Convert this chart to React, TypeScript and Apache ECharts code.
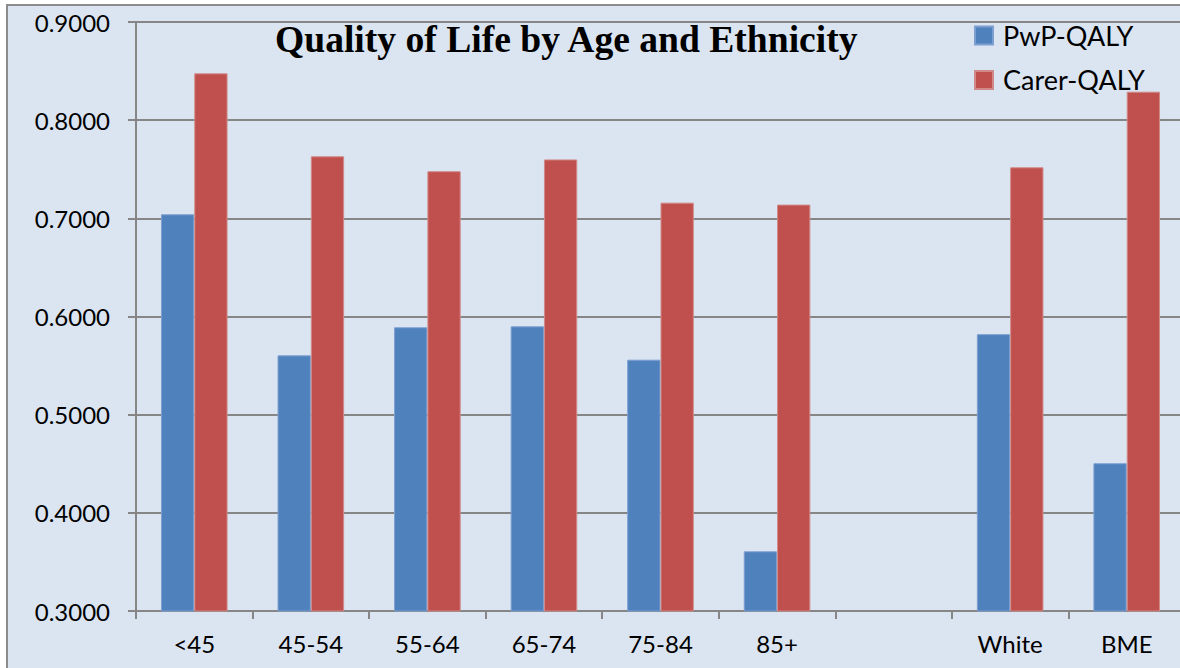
import React, { useEffect, useRef } from "react";
import * as echarts from "echarts";

const categories = ["<45", "45-54", "55-64", "65-74", "75-84", "85+", "", "White", "BME"];
const pwpQaly = [0.7041, 0.5604, 0.589, 0.590, 0.556, 0.3608, null, 0.582, 0.4505];
const carerQaly = [0.8477, 0.7632, 0.748, 0.760, 0.716, 0.714, null, 0.752, 0.829];
const seriesNames = ["PwP-QALY", "Carer-QALY"];
const titleText = "Quality of Life by Age and Ethnicity";

const FONT = "Lato";

export default function App() {
  const ref = useRef<HTMLDivElement>(null);
  useEffect(() => {
    if (!ref.current) return;
    const chart = echarts.init(ref.current, null, { renderer: "svg" });
    chart.setOption({
      animation: false,
      backgroundColor: "#ffffff",
      graphic: [
        {
          type: "rect",
          z: -10,
          silent: true,
          shape: { x: 7, y: 5, width: 1300, height: 700 },
          style: { fill: "#dbe5f1", stroke: "#8c8c8c", lineWidth: 2 },
        },
        {
          type: "text",
          z: 10,
          silent: true,
          x: 275,
          y: 39,
          style: {
            text: titleText,
            fontFamily: "Liberation Serif",
            fontWeight: "bold",
            fontSize: 37.6,
            fill: "#000",
            verticalAlign: "middle",
            align: "left",
          },
        },
      ],
      legend: {
        orient: "vertical",
        left: 974,
        top: 22,
        padding: 0,
        itemWidth: 18,
        itemHeight: 18,
        itemGap: 17.4,
        icon: "rect",
        data: seriesNames,
        textStyle: {
          fontFamily: FONT,
          fontSize: 27,
          lineHeight: 18,
          color: "#000",
          padding: [0, 0, 0, 5],
        },
      },
      grid: { left: 136, top: 22, width: 1049, height: 589 },
      xAxis: {
        type: "category",
        data: categories,
        axisLine: { lineStyle: { color: "#868686", width: 2 } },
        axisTick: { show: true, length: 8, lineStyle: { color: "#868686", width: 2 } },
        axisLabel: { fontFamily: FONT, fontSize: 24, color: "#000", margin: 20, interval: 0 },
      },
      yAxis: {
        type: "value",
        min: 0.3,
        max: 0.9,
        interval: 0.1,
        axisLine: { show: true, lineStyle: { color: "#868686", width: 2 } },
        axisTick: { show: true, length: 8, lineStyle: { color: "#868686", width: 2 } },
        splitLine: { lineStyle: { color: "#868686", width: 2 } },
        axisLabel: {
          fontFamily: FONT,
          fontSize: 24,
          color: "#000",
          margin: 26,
          formatter: (v: number) => v.toFixed(4),
        },
      },
      series: [
        {
          name: seriesNames[0],
          type: "bar",
          data: pwpQaly,
          barWidth: 33.3,
          barGap: "0%",
          itemStyle: { color: "#4f81bd", borderColor: "#7c9fd0", borderWidth: 1 },
        },
        {
          name: seriesNames[1],
          type: "bar",
          data: carerQaly,
          barWidth: 33.3,
          barGap: "0%",
          itemStyle: { color: "#c0504d", borderColor: "#d18a88", borderWidth: 1 },
        },
      ],
    });
    return () => chart.dispose();
  }, []);
  return (
    <div
      style={{
        position: "absolute",
        left: 0,
        top: 0,
        width: 1180,
        height: 668,
        overflow: "hidden",
      }}
    >
      <div ref={ref} style={{ width: 1220, height: 668 }} />
    </div>
  );
}
